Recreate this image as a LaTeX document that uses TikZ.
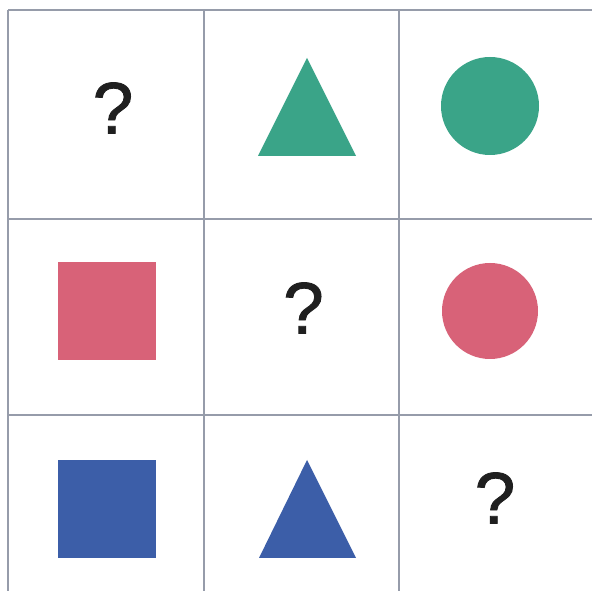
\documentclass[tikz,border=0pt]{standalone}
\usepackage{fontspec}
\setmainfont{Liberation Sans}
\newfontfamily\qfont[FakeBold=1.2]{Liberation Sans}
\usepackage{xcolor}
\usepackage{tikz}

\definecolor{gridgray}{RGB}{150,156,170}
\definecolor{shapegreen}{RGB}{58,164,136}
\definecolor{shapered}{RGB}{216,98,120}
\definecolor{shapeblue}{RGB}{60,94,168}

\begin{document}
\begin{tikzpicture}[x=1pt,y=1pt,
    gridline/.style={gridgray, line width=1.5pt},
    qmark/.style={inner sep=0pt, font=\qfont\fontsize{73}{80}\selectfont, text=black!88}]
    \useasboundingbox[fill=white] (0,0) rectangle (592,591);

    % grid lines
    \foreach \x in {8,204,399}
        \draw[gridline] (\x,0) -- (\x,581);
    \foreach \y in {581,372,176}
        \draw[gridline] (8,\y) -- (592,\y);

    % first row
    \node[qmark] (q11) at (113,483) {?};
    \fill[shapegreen] (258,435) -- (356,435) -- (307,533) -- cycle;
    \fill[shapegreen] (490,485) circle (49);

    % second row
    \fill[shapered] (58,231) rectangle (156,329);
    \node[qmark] (q22) at (303.5,283) {?};
    \fill[shapered] (490,280) circle (48);

    % third row
    \fill[shapeblue] (58,33) rectangle (156,131);
    \fill[shapeblue] (259,33) -- (356,33) -- (307,131) -- cycle;
    \node[qmark] (q33) at (495,93) {?};
\end{tikzpicture}
\end{document}
